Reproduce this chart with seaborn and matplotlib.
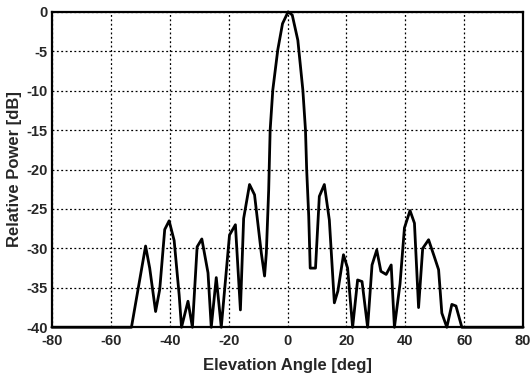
import numpy as np
import pandas as pd
import matplotlib
matplotlib.use("Agg")
import matplotlib.pyplot as plt
import seaborn as sns
from matplotlib.ticker import MultipleLocator

angle_deg = [-80, -53, -48.2, -46.8, -44.8, -43.4, -41.7, -40.2, -38.5, -36.8, -36.0,
             -33.8, -32.3, -30.7, -29.1, -27.0, -25.9, -24.2, -22.5, -19.7, -17.7,
             -16.0, -14.9, -12.9, -11.2, -8.9, -7.8, -7.2, -6.4, -5.9, -5.0, -3.3,
             -1.7, 0.2, 1.6, 3.5, 5.2, 6.1, 6.5, 7.2, 7.7, 9.5, 10.8, 12.5, 14.2,
             15.9, 17.1, 19.0, 20.4, 22.1, 23.8, 25.3, 27.2, 28.7, 30.3, 31.7, 33.5,
             35.2, 36.3, 38.2, 39.7, 41.6, 43.1, 44.5, 45.9, 47.9, 49.8, 51.3, 52.4,
             54.1, 55.8, 57.2, 59.2, 80]
power_db = [-40, -40, -29.7, -32.5, -38.0, -35.2, -27.6, -26.5, -29.0, -35.9, -40,
            -36.7, -40, -29.8, -28.8, -33.1, -40, -33.7, -40, -28.3, -27.0,
            -37.8, -26.2, -21.9, -23.2, -30.6, -33.5, -30.6, -22.6, -15.0, -9.9, -4.8,
            -1.5, 0.0, -0.4, -3.6, -9.9, -15.0, -20.0, -25.9, -32.5, -32.5, -23.4, -21.9, -26.4,
            -36.9, -35.4, -30.8, -32.5, -40, -34.0, -34.2, -40, -32.1, -30.2, -32.9, -33.3,
            -32.1, -40, -34.5, -27.4, -25.2, -26.8, -37.5, -30.0, -28.9, -31.0, -32.7, -38.2,
            -40, -37.1, -37.3, -40, -40]

x_ticks = [-80, -60, -40, -20, 0, 20, 40, 60, 80]
y_ticks = [0, -5, -10, -15, -20, -25, -30, -35, -40]

df = pd.DataFrame({"angle": angle_deg, "power": power_db})

sns.set_style("white")
plt.rcParams['font.family'] = ['Liberation Sans', 'DejaVu Sans']

fig = plt.figure(figsize=(5.30, 3.81), dpi=100)
ax = fig.add_axes([0.098, 0.141, 0.889, 0.828])

sns.lineplot(data=df, x="angle", y="power", sort=False, color="black",
             linewidth=2.0, ax=ax, zorder=3)
for ln in ax.get_lines():
    ln.set_clip_on(False)

ax.set_xlim(-80, 80)
ax.set_ylim(-40, 0)
ax.set_xticks(x_ticks)
ax.set_yticks(y_ticks)
ax.set_xticklabels([str(t) for t in x_ticks], fontweight="bold", fontsize=10.5)
ax.set_yticklabels([str(t) for t in y_ticks], fontweight="bold", fontsize=10.5)
ax.xaxis.set_minor_locator(MultipleLocator(5))
ax.yaxis.set_minor_locator(MultipleLocator(1))
ax.tick_params(axis="x", which="major", direction="in", length=4, width=1, pad=5)
ax.tick_params(axis="y", which="major", direction="in", length=4, width=1, pad=3)
ax.tick_params(axis="both", which="minor", direction="in", length=2.5, width=0.8)
ax.grid(True, which="major", linestyle=(0, (1.5, 2.0)), color="black", linewidth=0.9)
for s in ax.spines.values():
    s.set_color("black")
    s.set_linewidth(1.6)

ax.set_xlabel("Elevation Angle [deg]", fontweight="bold", fontsize=12)
ax.set_ylabel("Relative Power [dB]", fontweight="bold", fontsize=12)
ax.yaxis.set_label_coords(-0.063, 0.5)
ax.xaxis.set_label_coords(0.5, -0.097)

fig.savefig("out.png", dpi=100)
